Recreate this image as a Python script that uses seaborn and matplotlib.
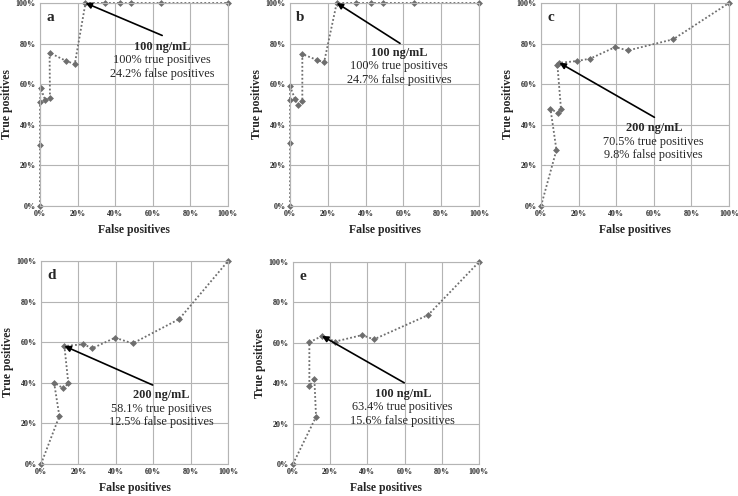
import numpy as np
import matplotlib
matplotlib.use('Agg')
import matplotlib.pyplot as plt
from matplotlib.ticker import PercentFormatter
import seaborn as sns
import pandas as pd

sns.set_style('whitegrid')
plt.rcParams['font.family'] = ['Liberation Serif', 'DejaVu Serif']

# --- data (false / true positive rates, in %) ---
a_fp = [0, 0, 0, 0.3, 2.8, 5.3, 5.1, 14.0, 18.5, 24.2, 34.7, 42.8, 48.3, 64.6, 100]
a_tp = [0, 30, 51.4, 58, 52.2, 53.3, 75.5, 71.4, 69.9, 100, 100, 100, 100, 100, 100]

b_fp = [0, 0, 0, 0, 2.6, 4.2, 6.5, 6.5, 14.1, 18.0, 24.7, 34.7, 42.9, 49.0, 65.6, 100]
b_tp = [0, 31, 52.3, 58.9, 52.8, 49.8, 51.8, 74.8, 72.0, 70.7, 100, 100, 100, 100, 100, 100]

c_fp = [0, 8.2, 5.0, 8.9, 10.6, 8.7, 9.8, 19.0, 26.2, 39.5, 46.2, 70.3, 100]
c_tp = [0, 27.6, 48.0, 45.7, 48.0, 69.6, 70.5, 71.4, 72.6, 78.3, 76.6, 82.1, 100]

d_fp = [0, 9.8, 7.0, 11.9, 14.6, 12.5, 22.6, 27.4, 39.6, 49.0, 73.9, 100]
d_tp = [0, 23.6, 40.0, 37.3, 39.7, 58.1, 59.0, 57.0, 62.2, 59.4, 71.4, 100]

e_fp = [0, 12.4, 11.5, 8.8, 8.8, 15.6, 22.6, 37.1, 43.5, 72.6, 100]
e_tp = [0, 23.4, 42.1, 38.6, 60.2, 63.4, 60.6, 63.8, 61.7, 73.7, 100]

panel_letters = ['a', 'b', 'c', 'd', 'e']
conc_labels = ['100 ng/mL', '100 ng/mL', '200 ng/mL', '200 ng/mL', '100 ng/mL']
tp_labels = ['100% true positives', '100% true positives', '70.5% true positives',
             '58.1% true positives', '63.4% true positives']
fp_labels = ['24.2% false positives', '24.7% false positives', '9.8% false positives',
             '12.5% false positives', '15.6% false positives']
# optimal cut-off point that the arrow points at
best_fp = [24.2, 24.7, 9.8, 12.5, 15.6]
best_tp = [100, 100, 70.5, 58.1, 63.4]

# --- layout ---
fig = plt.figure(figsize=(7.38, 4.96), dpi=100)
rects = [
    (0.0542, 0.5847, 0.2547, 0.4093),
    (0.3930, 0.5847, 0.2561, 0.4093),
    (0.7331, 0.5847, 0.2547, 0.4093),
    (0.0556, 0.0645, 0.2534, 0.4093),
    (0.3970, 0.0645, 0.2520, 0.4073),
]
# arrow tail / text position (x, y of bold line), in data units
arrow_tail = [(65, 84), (58.2, 80.1), (60.3, 43.7), (59.7, 38.9), (59.8, 40.2)]
text_pos = [(65, 78.5), (57.8, 75.5), (60, 38.3), (64.5, 34), (59, 34.7)]
line_gap = 6.7

series = [(a_fp, a_tp), (b_fp, b_tp), (c_fp, c_tp), (d_fp, d_tp), (e_fp, e_tp)]
grey = '#b4b4b4'

for i, (fp, tp) in enumerate(series):
    ax = fig.add_axes(rects[i])
    df = pd.DataFrame({'fp': fp, 'tp': tp})
    sns.lineplot(data=df, x='fp', y='tp', sort=False, estimator=None, ax=ax,
                 color='#6e6e6e', linestyle=(0, (1, 1.2)), linewidth=1.3,
                 marker='D', markersize=3.5, markeredgewidth=0,
                 clip_on=False)
    ax.set_xlim(0, 100)
    ax.set_ylim(0, 100)
    ax.set_xticks(np.arange(0, 101, 20))
    ax.set_yticks(np.arange(0, 101, 20))
    ax.xaxis.set_major_formatter(PercentFormatter(xmax=100, decimals=0))
    ax.yaxis.set_major_formatter(PercentFormatter(xmax=100, decimals=0))
    ax.tick_params(axis='both', length=0, labelsize=5.8, pad=3)
    for lab in ax.get_xticklabels() + ax.get_yticklabels():
        lab.set_fontweight('bold')
    ax.grid(True, color=grey, linewidth=0.8)
    for sp in ax.spines.values():
        sp.set_color(grey)
        sp.set_linewidth(0.8)
    ax.set_xlabel('False positives', fontsize=8.5, fontweight='bold', labelpad=4)
    ax.set_ylabel('True positives', fontsize=8.5, fontweight='bold', labelpad=2)

    ax.text(0.055, 0.93, panel_letters[i], transform=ax.transAxes, ha='center',
            va='center', fontsize=11, fontweight='bold')

    ax.annotate('', xy=(best_fp[i], best_tp[i]), xytext=arrow_tail[i],
                arrowprops=dict(arrowstyle='-|>', color='black', lw=1.2,
                                mutation_scale=9, shrinkA=0, shrinkB=0))
    tx, ty = text_pos[i]
    ax.text(tx, ty, conc_labels[i], ha='center', va='center', fontsize=8.8,
            fontweight='bold')
    ax.text(tx, ty - line_gap, tp_labels[i], ha='center', va='center', fontsize=8.8)
    ax.text(tx, ty - 2 * line_gap, fp_labels[i], ha='center', va='center', fontsize=8.8)

fig.savefig('out.png', dpi=100)
